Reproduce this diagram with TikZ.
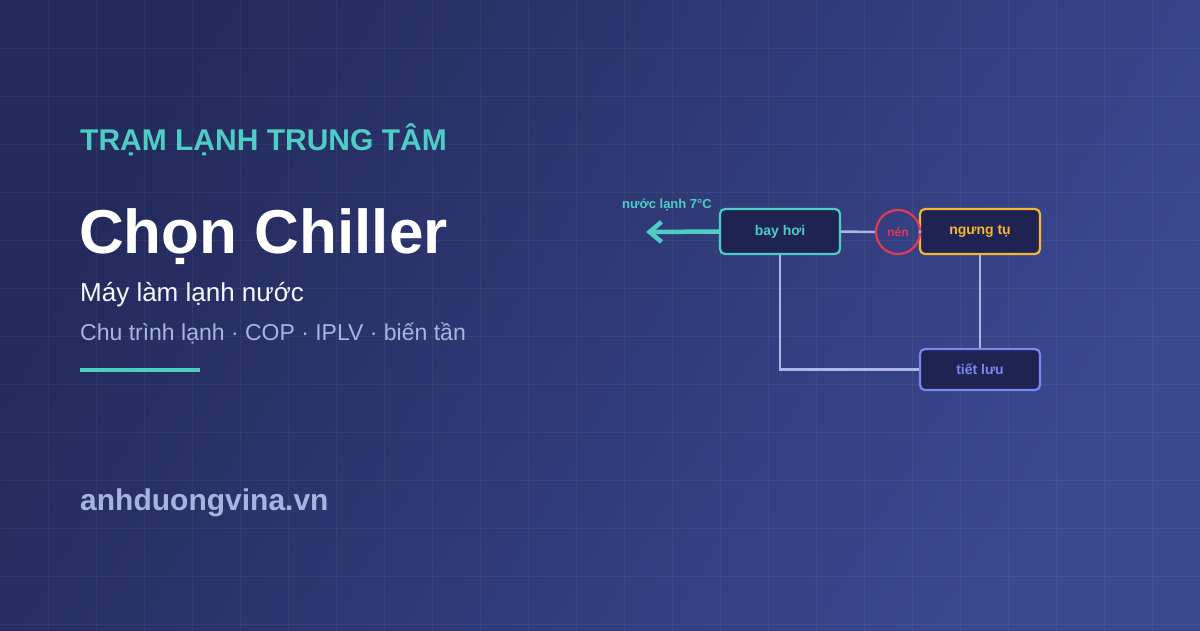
\documentclass[tikz,border=0pt]{standalone}
\usepackage{fontspec}
\setmainfont{Liberation Sans}
\usetikzlibrary{arrows.meta}
\definecolor{bgA}{HTML}{232A5C}
\definecolor{bgB}{HTML}{3A4890}
\definecolor{teal}{HTML}{4ECDC4}
\definecolor{orng}{HTML}{F5B731}
\definecolor{redc}{HTML}{E8365A}
\definecolor{violet}{HTML}{7B86F0}
\definecolor{boxf}{HTML}{1E2352}
\definecolor{pipe}{HTML}{AEB6E6}
\definecolor{subt}{HTML}{A8B4E0}
\begin{document}
\begin{tikzpicture}[x=1pt,y=-1pt,
  box/.style={draw,line width=2.2pt,rounded corners=5pt,fill=boxf,minimum width=120pt,font=\bfseries\fontsize{14}{16}\selectfont},
  pipeline/.style={draw=pipe,line width=2.5pt}]
\useasboundingbox (0,0) rectangle (1200,630);
\shade[left color=bgA,right color=bgB,shading angle=60] (0,0) rectangle (1200,630);
\foreach \i in {48,96,...,1200} \draw[white,opacity=0.05,line width=1pt] (\i,0)--(\i,630);
\foreach \i in {48,96,...,630} \draw[white,opacity=0.05,line width=1pt] (0,\i)--(1200,\i);
\node[anchor=base west,text=teal,font=\bfseries\fontsize{30}{32}\selectfont,inner sep=0] (t1) at (80,150) {TRẠM LẠNH TRUNG TÂM};
\node[anchor=base west,text=white,font=\bfseries\fontsize{62}{66}\selectfont,inner sep=0] (t2) at (79,253) {Chọn Chiller};
\node[anchor=base west,text=white!90!subt,font=\fontsize{26}{28}\selectfont,inner sep=0] (t3) at (80,301) {Máy làm lạnh nước};
\node[anchor=base west,text=subt,font=\fontsize{23}{25}\selectfont,inner sep=0] (t4) at (80,340) {Chu trình lạnh · COP · IPLV · biến tần};
\fill[teal] (80,368) rectangle (200,372);
\node[anchor=base west,text=subt,font=\bfseries\fontsize{30}{32}\selectfont,inner sep=0] (t5) at (80,510) {anhduongvina.vn};
\node[box,draw=teal,text=teal,minimum height=45pt] (bh) at (780,231.5) {bay hơi};
\node[box,draw=orng,text=orng,minimum height=45pt] (nt) at (980,231.5) {ngưng tụ};
\node[box,draw=violet,text=violet,minimum height=41pt] (tl) at (980,369.5) {tiết lưu};
\node[circle,draw=redc,line width=2.2pt,minimum size=44pt,inner sep=0,text=redc,font=\bfseries\fontsize{12}{14}\selectfont] (nen) at (898,232) {nén};
\draw[pipeline] (bh.east)--(nen.west);
\draw[pipeline] (nen.east)--(nt.west);
\draw[pipeline] (nt.south)--(tl.north);
\draw[pipeline] (tl.west)-|(bh.south);
\coordinate (out) at (646,232);
\draw[teal,line width=4.5pt,-{Straight Barb[length=12pt,width=20pt,line width=4.5pt]}] (bh.west)--(out);
\node[text=teal,font=\bfseries\fontsize{13}{15}\selectfont,inner sep=0] (lbl) at (667,205) {nước lạnh 7°C};
\end{tikzpicture}
\end{document}
